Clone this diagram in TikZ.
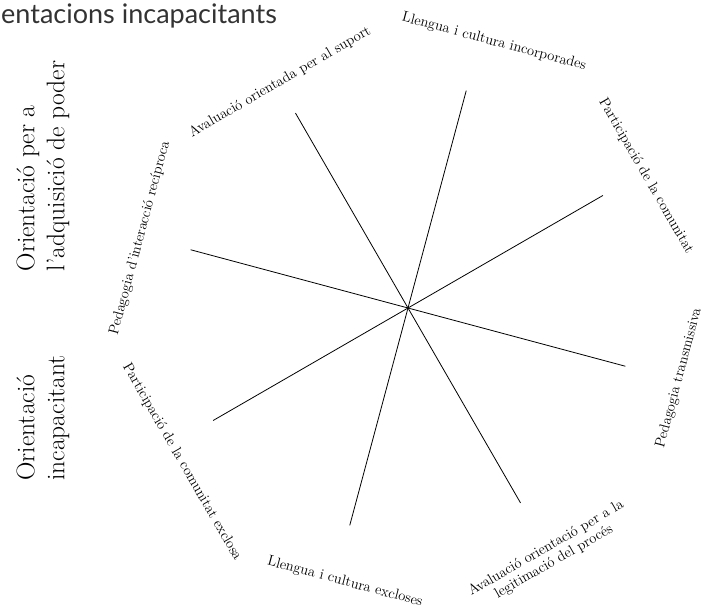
\documentclass[tikz,border=0pt]{standalone}
\usepackage{fontspec}
\newfontfamily\titlefont{Lato}
\usetikzlibrary{positioning}
\tikzset{
  spoke/.style={draw=black, line width=0.8pt},
  lbl/.style  ={font=\fontsize{14.5}{15.5}\selectfont, inner sep=1pt, align=center},
  side/.style ={font=\fontsize{25.5}{30}\selectfont, rotate=90, align=left, inner sep=0pt},
  ttl/.style  ={font=\titlefont\fontsize{27}{30}\selectfont, text=black!80,
                anchor=base west, inner sep=0pt},
}
\begin{document}
\begin{tikzpicture}[x=1pt, y=-1pt]
  \useasboundingbox (0,0) rectangle (704,609);
  \node[ttl] (title) at (1,24) {entacions incapacitants};
  % hub and spoke ends
  \coordinate (hub) at (408,308);
  \foreach \a/\n in {75/a, 30/b, -15/c, -60/d, -105/e, -150/f, 165/g, 120/h}
    \path (hub) ++(\a:225pt) coordinate (\n);
  \draw[spoke] (a) -- (e);
  \draw[spoke] (b) -- (f);
  \draw[spoke] (c) -- (g);
  \draw[spoke] (d) -- (h);
  % labels round the octagon
  \node[lbl, rotate=-15] (incorp)  at (494,42)  {Llengua i cultura incorporades};
  \node[lbl, rotate=-60] (comun)   at (646,176) {Participació de la comunitat};
  \node[lbl, rotate=75]  (transm)  at (679,378) {Pedagogia transmissiva};
  \node[lbl, rotate=30]  (legit)   at (550,555) {Avaluació orientació per a la\\legitimació del procés};
  \node[lbl, rotate=-15] (exclo)   at (345,582) {Llengua i cultura excloses};
  \node[lbl, rotate=-60] (exclosa) at (182,462) {Participació de la comunitat exclosa};
  \node[lbl, rotate=75]  (recip)   at (140,238) {Pedagogia d'interacció recíproca};
  \node[lbl, rotate=30]  (suport)  at (280,82)  {Avaluació orientada per al suport};
  % side headings
  \node[side] (poder)  at (43,166) {Orientació per a\\l'adquisició de poder};
  \node[side] (incap)  at (43,418) {Orientació\\incapacitant};
\end{tikzpicture}
\end{document}
